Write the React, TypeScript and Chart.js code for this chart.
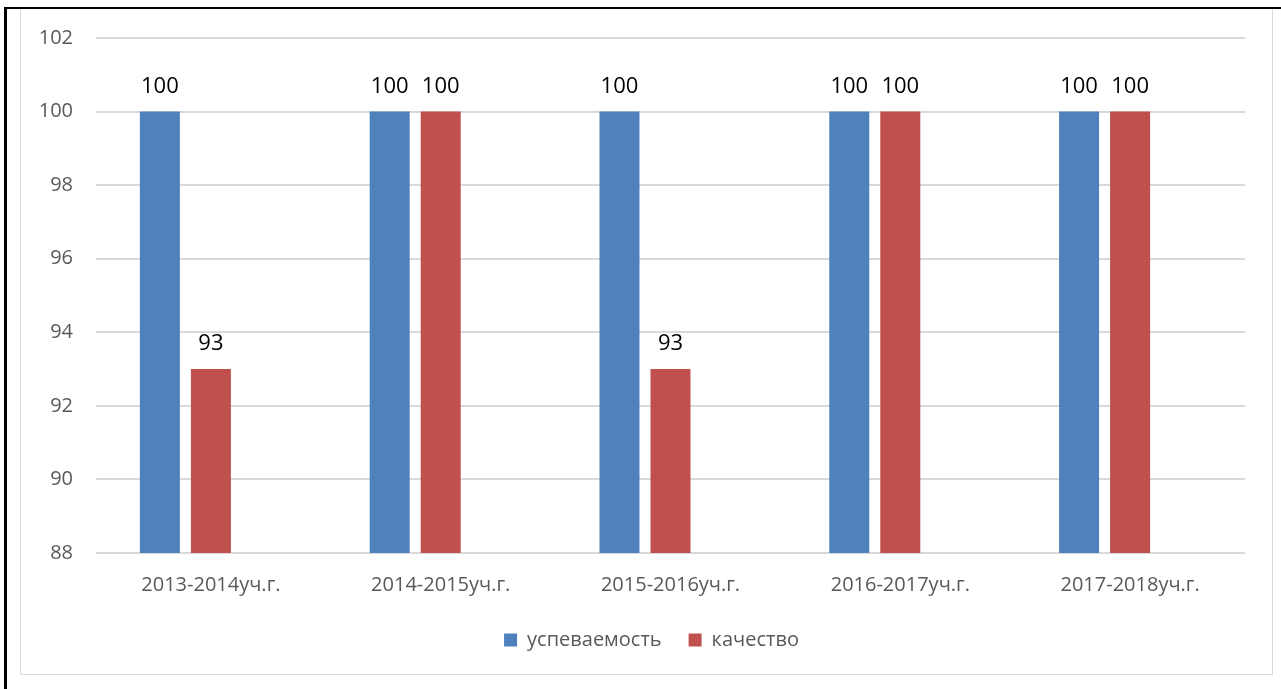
import React, { useEffect, useRef } from "react";
import { Chart, registerables } from "chart.js";

Chart.register(...registerables);

const categories = ["2013-2014уч.г.", "2014-2015уч.г.", "2015-2016уч.г.", "2016-2017уч.г.", "2017-2018уч.г."];
const progress = [100, 100, 100, 100, 100];
const quality = [93, 100, 93, 100, 100];
const emptySeries: (number | null)[] = [null, null, null, null, null];
const seriesNames = ["успеваемость", "качество", ""];
const yMin = 88;
const yMax = 102;
const yStep = 2;

const FONT = "'Open Sans', Lato, sans-serif";

const valueLabels = {
  id: "valueLabels",
  afterDatasetsDraw(chart: any) {
    const ctx = chart.ctx;
    ctx.save();
    ctx.font = `22px ${FONT}`;
    ctx.fillStyle = "#000000";
    ctx.textAlign = "center";
    ctx.textBaseline = "alphabetic";
    chart.data.datasets.forEach((ds: any, i: number) => {
      const meta = chart.getDatasetMeta(i);
      meta.data.forEach((bar: any, j: number) => {
        const v = ds.data[j];
        if (v === null || v === undefined) return;
        ctx.fillText(String(v), bar.x, bar.y - 19);
      });
    });
    ctx.restore();
  },
};

// shift the legend slightly to match the reference placement
const legendShift = {
  id: "legendShift",
  afterLayout(chart: any) {
    const lg = chart.legend;
    if (!lg) return;
    const area = chart.chartArea;
    const mid = (area.left + area.right) / 2 - 19;
    const cur = (lg.left + lg.right) / 2;
    const d = mid - cur;
    lg.left += d;
    lg.right += d;
  },
};

export default function App() {
  const ref = useRef<HTMLCanvasElement>(null);
  useEffect(() => {
    if (!ref.current) return;
    const chart = new Chart(ref.current, {
      type: "bar",
      data: {
        labels: categories,
        datasets: [
          { label: seriesNames[0], data: progress, backgroundColor: "#4F81BD" },
          { label: seriesNames[1], data: quality, backgroundColor: "#C0504D" },
          { label: seriesNames[2], data: emptySeries, backgroundColor: "#9BBB59" },
        ],
      },
      options: {
        animation: false,
        responsive: false,
        maintainAspectRatio: false,
        layout: { padding: { top: 38, left: 0, right: 36, bottom: 29 } },
        datasets: { bar: { categoryPercentage: 0.666, barPercentage: 0.784 } },
        plugins: {
          tooltip: { enabled: false },
          legend: {
            position: "bottom",
            labels: {
              filter: (item: any) => item.text !== "",
              boxWidth: 13,
              boxHeight: 13,
              padding: 27,
              color: "#595959",
              font: { family: FONT, size: 20 },
            },
          },
        },
        scales: {
          x: {
            grid: { display: false },
            border: { display: false },
            ticks: { color: "#595959", font: { family: FONT, size: 20 }, padding: 12, maxRotation: 0 },
            afterFit: (s: any) => { s.height = 50; },
          },
          y: {
            min: yMin,
            max: yMax,
            grid: { color: "#D9D9D9", lineWidth: 2, drawTicks: false },
            border: { display: false },
            ticks: { stepSize: yStep, color: "#595959", font: { family: FONT, size: 20 }, padding: 23 },
            afterFit: (s: any) => { s.width = 96; },
          },
        },
      },
      plugins: [valueLabels, legendShift],
    });
    return () => chart.destroy();
  }, []);
  return (
    <div style={{ position: "absolute", left: 0, top: 0, width: 1281, height: 689, background: "#fff", overflow: "hidden" }}>
      <div style={{ position: "absolute", left: 20, top: 8, width: 1253, height: 667, border: "1px solid #D9D9D9", boxSizing: "border-box" }} />
      <div style={{ position: "absolute", left: 4, top: 7, width: 1277, height: 2, background: "#000" }} />
      <div style={{ position: "absolute", left: 4, top: 7, width: 3, height: 682, background: "#000" }} />
      <canvas ref={ref} width={1281} height={689} style={{ position: "absolute", left: 0, top: 0, width: 1281, height: 689 }} />
    </div>
  );
}
